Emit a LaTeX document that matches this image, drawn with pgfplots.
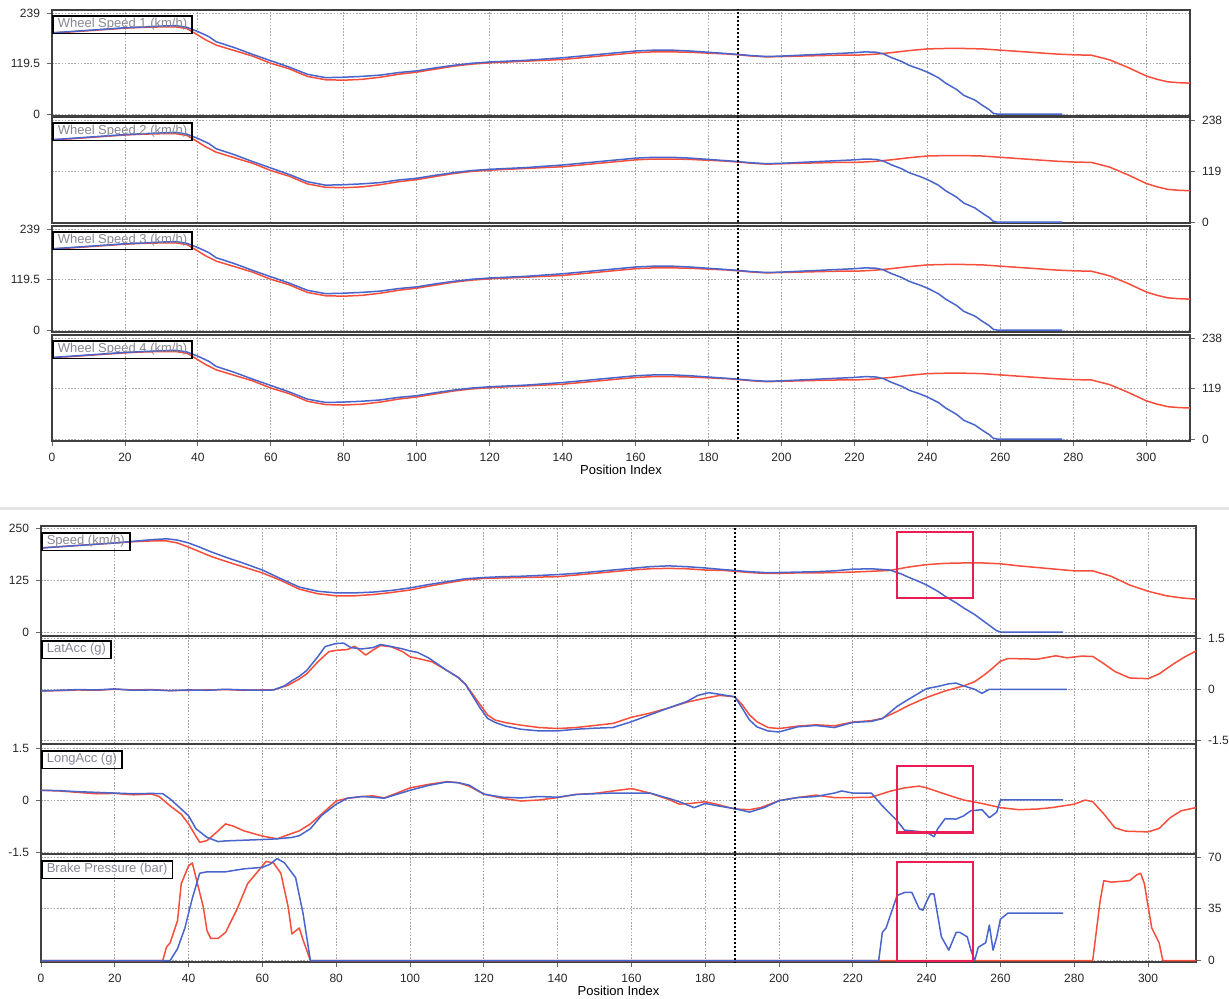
\documentclass[border=0pt]{standalone}
\usepackage{fontspec}
\setmainfont{Liberation Sans}
\usepackage{pgfplots}
\pgfplotsset{compat=1.18}
\usepackage{pgfplotstable}

\definecolor{cblue}{RGB}{72,100,205}
\definecolor{cred}{RGB}{246,78,58}
\definecolor{cpink}{RGB}{232,30,85}
\definecolor{lblgray}{RGB}{135,135,148}

% ---------- Wheel speed (top panel) ----------
\pgfplotstableread{
x y
0 192
5 194
10 197
15 200
20 203
25 205
30 206
34 206
37 202
39 192
42 176
45 163
50 150
55 137
60 120
65 107
70 89
75 81
80 80
85 82
90 87
95 94
100 99
105 106
110 113
115 118
120 121
125 123
130 125
135 127
140 129
145 133
150 137
155 141
160 145
165 147
170 147
175 146
180 144
185 142
188 140
192 137
196 135
200 136
205 137
210 138
215 139
220 139
225 141
230 145
235 150
240 154
245 155
250 155
255 154
260 151
265 148
270 145
275 142
280 140
285 139
290 128
295 110
300 90
303 82
306 76
309 74
312 73
}\wsred

\pgfplotstableread{
x y
0 192
5 195
10 198
15 201
20 204
25 206
30 208
34 209
37 205
40 195
43 183
45 171
50 157
55 141
60 126
65 111
70 94
75 86
80 87
85 89
90 92
95 98
100 102
105 109
110 115
115 120
120 123
125 125
130 127
135 130
140 133
145 137
150 141
155 145
160 149
165 151
170 151
175 149
180 146
185 143
188 141
192 138
196 136
200 137
205 139
210 141
215 143
220 145
223 147
226 146
228 142
230 134
233 124
235 115
238 106
240 99
243 86
245 73
248 58
250 44
253 33
255 21
257 10
258 2
259 0
277 0
}\wsblue

% ---------- Speed (bottom panel) ----------
\pgfplotstableread{
x y
0 202
5 205
10 208
15 211
20 214
25 217
30 219
34 219
37 214
40 204
43 193
46 182
50 170
55 156
60 142
65 124
70 103
75 92
80 87
85 87
90 90
95 95
100 101
105 110
110 118
115 125
120 129
125 130
130 131
135 132
140 133
145 137
150 141
155 145
160 149
165 152
170 153
175 152
180 149
185 148
188 146
192 143
196 141
200 141
205 142
210 142
215 143
220 144
225 146
230 148
235 156
240 162
245 165
250 166
255 166
260 164
265 159
270 155
275 151
280 147
285 147
290 134
295 113
300 98
305 87
309 82
313 79
}\spred

\pgfplotstableread{
x y
0 202
5 205
10 208
15 211
20 214
25 218
30 222
34 224
37 221
40 214
43 204
46 193
50 180
55 165
60 149
65 128
70 108
75 98
80 94
85 94
90 96
95 100
100 106
105 114
110 121
115 128
120 131
125 133
130 134
135 136
140 138
145 141
150 145
155 149
160 153
165 157
170 159
175 157
180 154
185 150
188 148
192 145
196 143
200 143
205 144
210 145
215 147
220 151
225 152
230 149
233 140
235 132
238 121
240 113
243 98
245 86
248 70
250 58
253 42
255 29
257 16
259 3
260 0
277 0
}\spblue

% ---------- LatAcc ----------
\pgfplotstableread{
x y
0 -0.05
5 -0.04
10 -0.02
15 -0.03
20 0.0
25 -0.02
30 -0.01
35 -0.04
40 -0.03
45 -0.02
50 -0.01
55 -0.03
60 -0.02
63 -0.02
65 0.05
67 0.12
70 0.30
72 0.45
75 0.80
78 1.10
80 1.14
83 1.16
85 1.26
88 1.0
90 1.15
92 1.28
95 1.24
98 1.10
100 0.95
103 0.88
106 0.80
110 0.55
113 0.35
115 0.15
117 -0.15
119 -0.45
121 -0.75
123 -0.90
126 -0.98
130 -1.05
135 -1.12
140 -1.15
145 -1.12
150 -1.06
155 -1.00
160 -0.82
165 -0.70
170 -0.55
175 -0.38
180 -0.26
184 -0.18
188 -0.22
190 -0.45
192 -0.75
194 -0.95
197 -1.12
200 -1.15
205 -1.08
210 -1.04
215 -1.07
220 -0.96
225 -0.92
228 -0.85
232 -0.65
235 -0.48
240 -0.24
245 -0.05
250 0.10
253 0.22
256 0.45
258 0.63
260 0.82
262 0.90
266 0.89
270 0.88
275 0.98
278 0.92
282 0.97
285 0.96
288 0.75
291 0.52
295 0.33
300 0.31
303 0.45
307 0.75
310 0.95
313 1.12
}\lared

\pgfplotstableread{
x y
0 -0.05
5 -0.03
10 -0.01
15 -0.02
20 0.01
25 -0.03
30 -0.02
35 -0.04
40 -0.02
45 -0.03
50 0.0
55 -0.02
60 -0.03
63 -0.02
66 0.10
68 0.25
70 0.38
72 0.55
75 0.95
77 1.25
80 1.34
82 1.35
84 1.22
87 1.18
90 1.22
92 1.31
95 1.25
98 1.18
100 1.12
102 1.08
105 0.92
110 0.55
113 0.35
115 0.15
117 -0.20
119 -0.55
121 -0.85
123 -0.97
126 -1.08
130 -1.17
135 -1.22
140 -1.22
145 -1.17
150 -1.14
155 -1.12
160 -0.95
165 -0.75
170 -0.55
175 -0.36
178 -0.18
181 -0.10
184 -0.15
188 -0.22
190 -0.55
192 -0.90
194 -1.10
197 -1.22
200 -1.25
205 -1.10
210 -1.06
215 -1.12
220 -0.97
225 -0.94
228 -0.86
232 -0.50
235 -0.30
240 0.02
243 0.08
246 0.16
248 0.18
250 0.10
253 0.0
255 -0.12
257 0.0
278 0.0
}\lablue

% ---------- LongAcc ----------
\pgfplotstableread{
x y
0 0.28
5 0.26
10 0.22
15 0.18
20 0.19
25 0.15
30 0.17
32 0.10
35 -0.17
38 -0.41
40 -0.69
42 -1.05
43 -1.22
45 -1.17
48 -0.89
50 -0.69
52 -0.75
55 -0.89
60 -1.04
64 -1.12
67 -1.0
70 -0.89
73 -0.69
76 -0.41
80 -0.03
83 0.05
87 0.10
90 0.12
93 0.06
96 0.18
100 0.35
105 0.45
110 0.53
113 0.50
116 0.40
120 0.17
125 0.05
130 -0.03
135 0.0
140 0.07
145 0.16
150 0.19
155 0.26
160 0.33
165 0.20
170 0.02
173 -0.12
176 -0.10
180 -0.05
183 -0.12
188 -0.26
192 -0.28
195 -0.22
200 -0.02
205 0.07
210 0.14
215 0.07
220 0.07
225 0.08
230 0.25
234 0.35
238 0.40
240 0.35
245 0.17
250 0.0
255 -0.10
260 -0.22
265 -0.28
270 -0.26
274 -0.22
280 -0.12
283 0.0
285 -0.05
288 -0.40
291 -0.80
294 -0.90
300 -0.92
303 -0.82
306 -0.51
309 -0.31
313 -0.22
}\lored

\pgfplotstableread{
x y
0 0.28
5 0.27
10 0.24
15 0.22
20 0.20
25 0.18
30 0.19
33 0.18
35 0.03
38 -0.26
40 -0.46
42 -0.83
45 -1.08
48 -1.20
50 -1.18
55 -1.16
60 -1.14
64 -1.12
68 -1.08
70 -1.03
73 -0.83
76 -0.45
80 -0.12
83 0.05
87 0.10
90 0.08
93 0.05
96 0.15
100 0.28
105 0.42
110 0.52
113 0.50
116 0.43
120 0.17
125 0.08
130 0.06
135 0.10
140 0.08
145 0.16
150 0.18
155 0.20
160 0.20
165 0.20
170 0.05
173 -0.05
177 -0.22
180 -0.10
184 -0.18
188 -0.25
192 -0.35
196 -0.22
200 -0.02
205 0.07
210 0.10
215 0.20
217 0.26
220 0.20
225 0.20
228 -0.17
232 -0.60
234 -0.87
238 -0.91
240 -0.93
242 -1.06
243 -0.83
245 -0.54
248 -0.55
250 -0.46
252 -0.31
255 -0.28
257 -0.51
259 -0.35
260 0.0
277 0.0
}\loblue

% ---------- Brake pressure ----------
\pgfplotstableread{
x y
0 0
33 0
34 9
35 12
37 27
38 52
40 64
41 66
42 56
44 36
45 20
46 15
48 15
50 19
53 34
56 52
60 64
61 67
63 66
65 59
67 36
68 18
70 22
71 14
73 0
285 0
287 40
288 54
290 53
295 54
297 58
298 59
299 52
301 22
303 12
304 0
313 0
}\brred

\pgfplotstableread{
x y
0 0
35 0
37 8
39 22
41 42
43 59
45 60
50 60
55 62
60 63
62 65
64 69
66 66
69 56
71 32
73 0
227 0
228 19
229 22
232 44
234 46
236 46
238 35
239 34
240 40
241 45
242 45
244 16
246 7
248 19
249 19
251 16
252 7
253 0
254 9
256 12
257 24
258 7
259 16
260 28
262 32
277 32
}\brblue

\pgfplotsset{
  strip/.style={
    scale only axis, anchor=north west,
    xmin=0,
    axis line style={draw=black!75, line width=0.9pt},
    xtick={0,20,...,300}, xticklabels={},
    xtick style={draw=none},
    grid=major,
    major grid style={gray!70, dash pattern=on 0.8pt off 0.8pt, line width=0.45pt},
    tick align=outside, major tick length=2.5pt,
    ytick style={black!60, line width=0.45pt},
    ticklabel style={font=\fontsize{6}{7}\selectfont, text=black!85},
    /pgf/number format/assume math mode=true,
    every axis plot/.append style={line width=0.75pt, no markers, line join=round},
  },
  leftstrip/.style={ytick pos=left, yticklabel pos=left},
  rightstrip/.style={ytick pos=right, yticklabel pos=right},
  bottomstrip/.style={
    xtick pos=bottom,
    xtick style={draw=black!60, line width=0.45pt},
    xticklabels={0,20,40,60,80,100,120,140,160,180,200,220,240,260,280,300},
    xlabel={Position Index},
    xlabel style={font=\fontsize{6.5}{7}\selectfont, inner sep=0pt, yshift=2pt},
  },
  cursor/.style={black, line width=1.1pt, dash pattern=on 1pt off 1pt},
}

\newcommand{\striplabel}[2]{%
  \node[draw=black, line width=0.8pt, text=lblgray, anchor=north west,
        inner xsep=2.5pt, inner ysep=0pt, minimum height=8.8pt,
        font=\fontsize{6.5}{7}\selectfont]
    at ([yshift=-#2]rel axis cs:0,1) {#1};}

\begin{document}
\begin{tikzpicture}
\useasboundingbox (0,0) rectangle (614.5pt,-499.5pt);
\draw[gray!20, line width=1.5pt] (0,-254pt) -- (614.5pt,-254pt);

% ===== Top panel =====
\begin{axis}[strip, leftstrip, at={(26pt,-5pt)}, width=569pt, height=53pt,
  xmax=312, ymin=-4.7, ymax=246, ytick={0,119.5,239}, yticklabels={0,119.5,239}]
  \addplot[cred] table {\wsred};
  \addplot[cblue] table {\wsblue};
  \addplot[cursor] coordinates {(188,-10) (188,260)};
  \striplabel{Wheel Speed 1 (km/h)}{2.5pt}
\end{axis}

\begin{axis}[strip, rightstrip, at={(26pt,-58.5pt)}, width=569pt, height=53pt,
  xmax=312, ymin=-2.3, ymax=245, ytick={0,119,238}, yticklabels={0,119,238}]
  \addplot[cred] table {\wsred};
  \addplot[cblue] table {\wsblue};
  \addplot[cursor] coordinates {(188,-10) (188,260)};
  \striplabel{Wheel Speed 2 (km/h)}{2.5pt}
\end{axis}

\begin{axis}[strip, leftstrip, at={(26pt,-113pt)}, width=569pt, height=53pt,
  xmax=312, ymin=-4.7, ymax=246, ytick={0,119.5,239}, yticklabels={0,119.5,239}]
  \addplot[cred] table {\wsred};
  \addplot[cblue] table {\wsblue};
  \addplot[cursor] coordinates {(188,-10) (188,260)};
  \striplabel{Wheel Speed 3 (km/h)}{2.5pt}
\end{axis}

\begin{axis}[strip, rightstrip, bottomstrip, at={(26pt,-167.5pt)}, width=569pt, height=53pt,
  xmax=312, ymin=-4.7, ymax=245, ytick={0,119,238}, yticklabels={0,119,238}]
  \addplot[cred] table {\wsred};
  \addplot[cblue] table {\wsblue};
  \addplot[cursor] coordinates {(188,-10) (188,260)};
  \striplabel{Wheel Speed 4 (km/h)}{2.5pt}
\end{axis}

% ===== Bottom panel =====
\begin{axis}[strip, leftstrip, at={(20.5pt,-263pt)}, width=577.5pt, height=55pt,
  xmax=313, ymin=-9.6, ymax=254.8, ytick={0,125,250}, yticklabels={0,125,250}]
  \addplot[cred] table {\spred};
  \addplot[cblue] table {\spblue};
  \addplot[cursor] coordinates {(188,-15) (188,260)};
  \draw[cpink, line width=1.1pt] (axis cs:232,82) rectangle (axis cs:252.5,240);
  \striplabel{Speed (km/h)}{3pt}
\end{axis}

\begin{axis}[strip, rightstrip, at={(20.5pt,-318pt)}, width=577.5pt, height=54pt,
  xmax=313, ymin=-1.6025, ymax=1.5585, ytick={-1.5,0,1.5}, yticklabels={-1.5,0,1.5}]
  \addplot[cred] table {\lared};
  \addplot[cblue] table {\lablue};
  \addplot[cursor] coordinates {(188,-2) (188,2)};
  \striplabel{LatAcc (g)}{2pt}
\end{axis}

\begin{axis}[strip, leftstrip, at={(20.5pt,-372pt)}, width=577.5pt, height=55pt,
  xmax=313, ymin=-1.558, ymax=1.615, ytick={-1.5,0,1.5}, yticklabels={-1.5,0,1.5}]
  \addplot[cred] table {\lored};
  \addplot[cblue] table {\loblue};
  \addplot[cursor] coordinates {(188,-2) (188,2)};
  \draw[cpink, line width=1.1pt] (axis cs:232,-0.94) rectangle (axis cs:252.5,0.97);
  \striplabel{LongAcc (g)}{3pt}
\end{axis}

\begin{axis}[strip, rightstrip, bottomstrip, at={(20.5pt,-427pt)}, width=577.5pt, height=54pt,
  xmax=313, ymin=-1.01, ymax=72.03, ytick={0,35,70}, yticklabels={0,35,70}]
  \addplot[cred] table {\brred};
  \addplot[cblue] table {\brblue};
  \addplot[cursor] coordinates {(188,-5) (188,80)};
  \draw[cpink, line width=1.1pt] (axis cs:232,-0.3) rectangle (axis cs:252.5,66.6);
  \striplabel{Brake Pressure (bar)}{3pt}
\end{axis}
\end{tikzpicture}
\end{document}
